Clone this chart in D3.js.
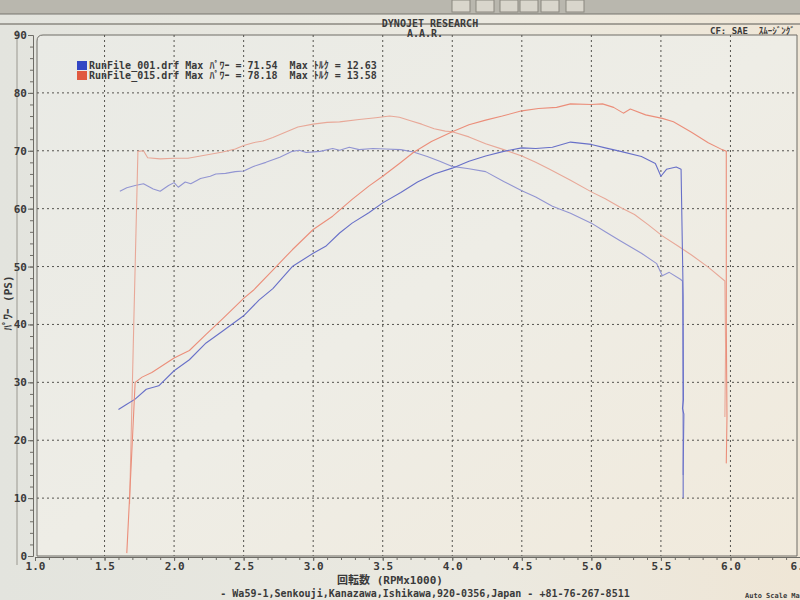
<!DOCTYPE html>
<html><head><meta charset="utf-8">
<script src="https://cdn.jsdelivr.net/npm/d3@7"></script>
<style>
html,body{margin:0;padding:0;background:#dedcd3;}
svg{display:block;}
text{font-family:"DejaVu Sans Mono","Noto Sans CJK JP",monospace;font-weight:bold;fill:#3a3a3a;white-space:pre;}
</style></head>
<body>
<svg id="chart" width="800" height="600"></svg>
<script>
// ---------- data (RPM x1000, PS) ----------
const xTickValues = [1.0,1.5,2.0,2.5,3.0,3.5,4.0,4.5,5.0,5.5,6.0,6.5];
const yTickValues = [0,10,20,30,40,50,60,70,80,90];

const bluePowerRpm = [1.60,1.66,1.72,1.80,1.89,2.00,2.11,2.23,2.34,2.50,2.61,2.71,2.85,3.00,3.09,3.19,3.28,3.40,3.50,3.63,3.75,3.87,4.00,4.12,4.24,4.37,4.50,4.60,4.72,4.85,5.00,5.10,5.21,5.36,5.46,5.50,5.54,5.61,5.645,5.66,5.662,5.655,5.665,5.66,5.66];
const bluePowerPs  = [25.3,26.2,27.1,28.8,29.4,32.0,33.9,36.8,38.7,41.5,44.2,46.2,50.0,52.3,53.5,55.8,57.5,59.3,61.0,62.8,64.6,66.0,67.0,68.2,69.1,69.9,70.5,70.4,70.6,71.5,71.1,70.5,69.9,69.0,67.8,65.6,66.8,67.2,66.8,45.0,27.0,25.5,24.5,15.0,10.0];

const blueTorqueRpm = [1.61,1.66,1.72,1.78,1.85,1.90,1.96,2.00,2.03,2.08,2.12,2.19,2.26,2.30,2.37,2.44,2.50,2.57,2.66,2.76,2.85,2.90,2.95,3.05,3.14,3.19,3.26,3.33,3.43,3.52,3.63,3.72,3.82,3.91,4.00,4.12,4.24,4.37,4.50,4.60,4.72,4.85,5.00,5.10,5.21,5.36,5.47,5.51,5.56,5.64,5.655,5.66];
const blueTorquePs  = [63.0,63.6,64.0,64.3,63.4,63.0,64.0,64.5,63.7,64.6,64.3,65.2,65.6,66.0,66.1,66.4,66.5,67.3,68.0,68.9,69.9,70.1,69.7,69.9,70.4,70.1,70.6,70.2,70.4,70.3,70.2,69.8,69.0,68.2,67.3,66.9,66.4,64.7,63.1,62.0,60.4,59.2,57.5,56.0,54.4,52.3,50.5,48.4,49.0,47.8,47.5,14.0];

const redPowerRpm = [1.66,1.69,1.72,1.77,1.84,2.00,2.11,2.23,2.35,2.50,2.57,2.71,2.85,3.00,3.14,3.28,3.40,3.50,3.62,3.72,3.85,4.00,4.12,4.24,4.36,4.50,4.62,4.75,4.85,5.00,5.08,5.16,5.23,5.28,5.39,5.51,5.59,5.72,5.84,5.94,5.97,5.97,5.975,5.97];
const redPowerPs  = [0.5,15.0,30.0,30.9,31.7,34.2,35.5,38.3,41.0,44.5,45.9,49.4,52.9,56.4,58.7,61.6,63.9,65.6,67.8,69.7,71.6,73.3,74.5,75.3,76.0,76.9,77.3,77.5,78.1,78.0,78.1,77.5,76.5,77.2,76.2,75.6,75.0,73.2,71.4,70.2,69.9,40.0,24.0,16.0];

const redTorqueRpm = [1.68,1.71,1.74,1.78,1.81,1.90,2.00,2.10,2.19,2.35,2.44,2.50,2.57,2.64,2.71,2.80,2.89,3.00,3.10,3.19,3.33,3.45,3.55,3.62,3.70,3.78,3.87,3.95,4.00,4.12,4.24,4.37,4.50,4.60,4.70,4.85,5.00,5.10,5.21,5.31,5.41,5.51,5.62,5.72,5.84,5.96,5.965,5.96];
const redTorquePs  = [9.0,40.0,69.9,70.0,68.8,68.6,68.7,68.7,69.1,69.8,70.3,70.9,71.4,71.7,72.3,73.2,74.1,74.6,74.9,75.0,75.4,75.7,76.0,75.8,75.2,74.6,73.8,73.4,73.3,72.4,71.2,70.2,69.1,68.0,66.8,64.9,62.9,61.7,60.2,59.0,57.2,55.3,53.6,52.0,49.9,47.5,36.0,24.0];

const legendLabels = [
  "RunFile_001.drf Max \uFF8A\uFF9F\uFF9C\uFF70 = 71.54\u00A0\u00A0Max \uFF84\uFF99\uFF78 = 12.63",
  "RunFile_015.drf Max \uFF8A\uFF9F\uFF9C\uFF70 = 78.18\u00A0\u00A0Max \uFF84\uFF99\uFF78 = 13.58"
];
const legendColors = ["#3346c4","#e0593f"];

// ---------- drawing ----------
const svg = d3.select("#chart");
const defs = svg.append("defs");
const g1 = defs.append("linearGradient").attr("id","bg").attr("x1","0").attr("x2","1").attr("y1","0").attr("y2","0");
g1.append("stop").attr("offset","0").attr("stop-color","#e3e4de");
g1.append("stop").attr("offset","0.6").attr("stop-color","#ebe9e0");
g1.append("stop").attr("offset","1").attr("stop-color","#efe6d6");
const g2 = defs.append("linearGradient").attr("id","plotbg").attr("x1","0").attr("x2","1").attr("y1","0").attr("y2","1");
g2.append("stop").attr("offset","0").attr("stop-color","#e9eae5");
g2.append("stop").attr("offset","0.5").attr("stop-color","#eeede6");
g2.append("stop").attr("offset","1").attr("stop-color","#f1eadc");

svg.append("rect").attr("width",800).attr("height",600).attr("fill","url(#bg)");
// top window chrome
svg.append("rect").attr("x",0).attr("y",0).attr("width",800).attr("height",14).attr("fill","#b9b7ae");
svg.append("line").attr("x1",0).attr("x2",800).attr("y1",14).attr("y2",14).attr("stroke","#77756e").attr("stroke-width",1);
svg.append("line").attr("x1",0).attr("x2",800).attr("y1",24).attr("y2",24).attr("stroke","#8b8980").attr("stroke-width",1.5);
const iconX = [452,476,500,520,541,566];
svg.selectAll("rect.icon").data(iconX).join("rect").attr("class","icon")
  .attr("x",d=>d).attr("y",0).attr("width",18).attr("height",12)
  .attr("fill","#d9d6cc").attr("stroke","#8a877f");
// left panel border
svg.append("line").attr("x1",17).attr("x2",17).attr("y1",30).attr("y2",565).attr("stroke","#9a9890");

const x = d3.scaleLinear().domain([1.0,6.5]).range([35,800]);
const y = d3.scaleLinear().domain([0,90]).range([556,35]);

// plot frame
const fx0 = 37, fy0 = y(90), fx1 = 797, fy1 = y(0);
svg.append("path")
  .attr("d",`M${fx0},${fy1} L${fx0},${fy0+6} Q${fx0},${fy0} ${fx0+6},${fy0} L${fx1},${fy0} L${fx1},${fy1} Z`)
  .attr("fill","url(#plotbg)").attr("stroke","#6e6c66").attr("stroke-width",1);

// grid
const gridY = yTickValues.filter(v=>v>0 && v<90);
svg.append("g").selectAll("line").data(gridY).join("line")
  .attr("x1",fx0).attr("x2",fx1).attr("y1",d=>y(d)).attr("y2",d=>y(d))
  .attr("stroke","#55544f").attr("stroke-width",1).attr("stroke-dasharray","2,3");
const gridX = xTickValues.filter(v=>v>1 && v<6.5);
svg.append("g").selectAll("line").data(gridX).join("line")
  .attr("x1",d=>x(d)).attr("x2",d=>x(d)).attr("y1",fy0).attr("y2",fy1)
  .attr("stroke","#55544f").attr("stroke-width",1).attr("stroke-dasharray","2,3");

// y axis
const yMinor = d3.range(0,91,2);
const yAx = svg.append("g").attr("transform","translate(33,0)")
  .call(d3.axisLeft(y).tickValues(yMinor).tickSize(3).tickFormat(""));
yAx.select(".domain").attr("stroke","#6e6c66");
yAx.selectAll(".tick line").attr("stroke","#6e6c66");
const yAx2 = svg.append("g").attr("transform","translate(33,0)")
  .call(d3.axisLeft(y).tickValues(yTickValues).tickSize(5).tickPadding(1).tickFormat(d3.format("d")));
yAx2.select(".domain").remove();
yAx2.selectAll(".tick line").attr("stroke","#6e6c66");
yAx2.selectAll("text").attr("font-size",11).attr("font-family","DejaVu Sans Mono").attr("font-weight","bold").attr("fill","#444");

// x axis (ruler style)
const xMinor = d3.range(10,66).map(v=>v/10);
const xAx = svg.append("g").attr("transform",`translate(0,${fy1+1})`)
  .call(d3.axisBottom(x).tickValues(xMinor).tickSize(3).tickFormat(""));
xAx.select(".domain").attr("stroke","#6e6c66");
xAx.selectAll(".tick line").attr("stroke","#6e6c66");
const xAx2 = svg.append("g").attr("transform",`translate(0,${fy1+1})`)
  .call(d3.axisBottom(x).tickValues(xTickValues).tickSize(4).tickPadding(1).tickFormat(d3.format(".1f")));
xAx2.select(".domain").remove();
xAx2.selectAll(".tick line").attr("stroke","#6e6c66");
xAx2.selectAll("text").attr("font-size",11).attr("font-family","DejaVu Sans Mono").attr("font-weight","bold").attr("fill","#444");

// curves
const line = d3.line().x(d=>x(d[0])).y(d=>y(d[1]));
function series(rpm, ps){ return rpm.map((r,i)=>[r,ps[i]]); }
const curves = [
  {rpm:blueTorqueRpm, ps:blueTorquePs, color:"#9295d2", w:1.1},
  {rpm:redTorqueRpm,  ps:redTorquePs,  color:"#e8a898", w:1.1},
  {rpm:bluePowerRpm,  ps:bluePowerPs,  color:"#6870c8", w:1.1},
  {rpm:redPowerRpm,   ps:redPowerPs,   color:"#eb8e7a", w:1.1}
];
svg.append("g").selectAll("path").data(curves).join("path")
  .attr("d",c=>line(series(c.rpm,c.ps)))
  .attr("fill","none").attr("stroke",c=>c.color).attr("stroke-width",c=>c.w)
  .attr("stroke-linejoin","round");

// legend
const lg = svg.append("g");
lg.selectAll("rect").data(legendColors).join("rect")
  .attr("x",77).attr("y",(d,i)=>61+i*10).attr("width",10).attr("height",9).attr("fill",d=>d);
lg.selectAll("text").data(legendLabels).join("text")
  .attr("x",89).attr("y",(d,i)=>69+i*10).attr("font-size",10)
  .attr("fill",(d,i)=>i===0?"#222":"#7d776e")
  .text(d=>d);

// titles
svg.append("text").attr("x",430).attr("y",27).attr("text-anchor","middle").attr("font-size",10).text("DYNOJET RESEARCH");
svg.append("text").attr("x",425).attr("y",37).attr("text-anchor","middle").attr("font-size",10).text("A.A.R.");
svg.append("text").attr("x",710).attr("y",34).attr("font-size",9).attr("fill","#555").text("CF: SAE\u00A0\u00A0\uFF7D\uFF91\uFF70\uFF7C\uFF9E\uFF9D\uFF78\uFF9E");

// axis titles
svg.append("text").attr("transform","translate(12,303) rotate(-90)").attr("text-anchor","middle").attr("font-size",11)
  .text("\uFF8A\uFF9F\uFF9C\uFF70 (PS)");
svg.append("text").attr("x",390).attr("y",584).attr("text-anchor","middle").attr("font-size",11).text("回転数 (RPMx1000)");
svg.append("text").attr("x",425).attr("y",597).attr("text-anchor","middle").attr("font-size",10)
  .text("- Wa59-1,Senkouji,Kanazawa,Ishikawa,920-0356,Japan - +81-76-267-8511");
svg.append("text").attr("x",745).attr("y",598).attr("font-size",7).attr("fill","#aaa").attr("font-weight","normal").text("Auto Scale Ma");
</script>
</body></html>
